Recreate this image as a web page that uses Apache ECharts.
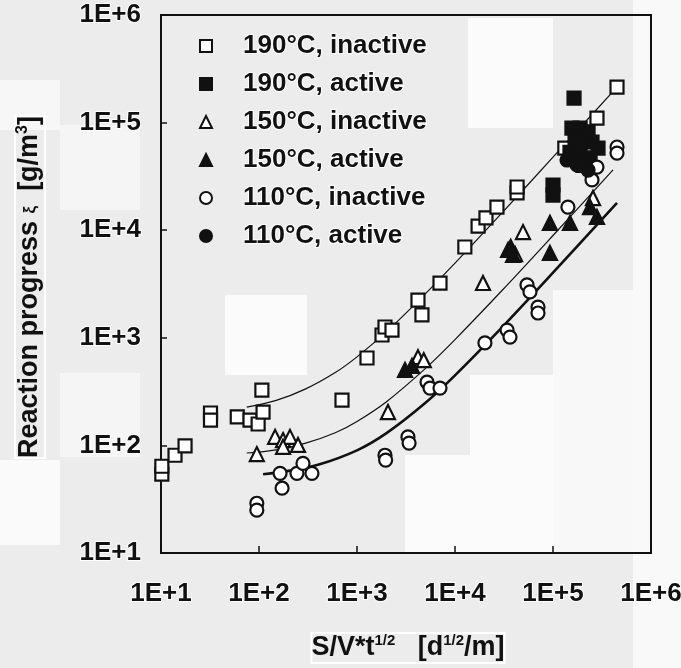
<!DOCTYPE html>
<html>
<head>
<meta charset="utf-8">
<script src="https://cdn.jsdelivr.net/npm/echarts@6/dist/echarts.min.js"></script>
<style>
  html, body { margin: 0; padding: 0; background: #ececec; }
  #chart { width: 681px; height: 668px; }
</style>
</head>
<body>
<div id="chart"></div>
<script>
// Decade exponents shown on both log axes
const tickExponents = [1, 2, 3, 4, 5, 6];

// Measured points [S/V*t^1/2, reaction progress]
const sq190Inactive = [
  [10.2, 54], [10.2, 64], [13.9, 81], [17.6, 99], [32, 200], [32, 172], [60, 184],
  [81, 172], [98, 158], [110, 204], [107, 327], [703, 264], [1265, 649], [1800, 1062],
  [1930, 1260], [2275, 1181], [4190, 2244], [4600, 1630], [7030, 3228], [12600, 6980],
  [17200, 10900], [20700, 13000], [26800, 16400], [43000, 22200], [43000, 25200],
  [132000, 58000], [281000, 110000], [450000, 214000]
];
const sq190Active = [
  [164000, 169000], [156000, 89000], [189000, 89000], [228000, 82000], [168000, 69000],
  [202000, 69000], [250000, 66000], [149000, 53000], [189000, 53000], [239000, 47000],
  [288000, 58000], [202000, 40000], [100000, 26300], [100000, 21200]
];
const tri150Inactive = [
  [95, 83], [146, 120], [176, 112], [207, 120], [250, 101], [176, 97], [2070, 204],
  [4190, 660], [4800, 620], [19300, 3230], [41000, 6000], [49400, 9600], [256000, 19900]
];
const tri150Active = [
  [3090, 502], [3640, 547], [34800, 6550], [39100, 5890], [37000, 7000], [93000, 11700],
  [149000, 11700], [239000, 16400], [281000, 13300], [93000, 6140]
];
const circ110Inactive = [
  [95, 29], [95, 25], [172, 40], [164, 55], [244, 55], [281, 68], [347, 55],
  [1930, 81], [1960, 73], [3310, 120], [3400, 105], [5180, 388], [5560, 341], [7030, 341],
  [20200, 896], [34000, 1181], [36400, 1016], [54300, 3100], [58200, 2670], [70300, 1930],
  [70300, 1700], [142000, 16400], [250000, 29300], [281000, 38600], [450000, 59300],
  [450000, 52100]
];
const circ110Active = [[139000, 44900], [228000, 36200], [176000, 40400]];

// Fitted trend curves
const fit190 = [
  [75, 227], [150, 262], [300, 335], [600, 475], [1000, 665], [2000, 1140], [5000, 2570],
  [10000, 4950], [30000, 14400], [100000, 47700], [450000, 214000]
];
const fit150 = [
  [75, 85], [150, 91], [300, 105], [600, 131], [1000, 167], [2000, 255], [5000, 520],
  [10000, 963], [30000, 2735], [100000, 8930], [410000, 36400]
];
const fit110 = [
  [110, 54], [200, 58], [400, 66], [1000, 90], [2000, 130], [5000, 249], [10000, 448],
  [30000, 1244], [100000, 4030], [450000, 17960]
];

const seriesNames = [
  '190°C, inactive', '190°C, active', '150°C, inactive',
  '150°C, active', '110°C, inactive', '110°C, active'
];

const FONT = '"Liberation Sans", Arial, Helvetica, sans-serif';
const INK = '#111';

const chart = echarts.init(document.getElementById('chart'), null, { renderer: 'canvas' });

function marker(name, symbol, size, data, filled) {
  return {
    name: name,
    type: 'scatter',
    symbol: symbol,
    symbolSize: size,
    data: data,
    z: 3,
    itemStyle: {
      color: filled ? INK : '#fff',
      borderColor: INK,
      borderWidth: 2.2,
      opacity: 1
    },
    emphasis: { disabled: true }
  };
}

function curve(data, width) {
  return {
    type: 'line',
    data: data,
    showSymbol: false,
    symbol: 'none',
    smooth: 0.35,
    z: 2,
    lineStyle: { color: INK, width: width },
    emphasis: { disabled: true },
    silent: true
  };
}

const expLabel = v => '1E+' + Math.round(Math.log10(v));
const labelStyle = {
  fontFamily: FONT, fontSize: 26, fontWeight: 'bold', color: INK,
  textBorderColor: '#fff', textBorderWidth: 2
};

// Light page blocks behind the plot
const blocks = [
  [225, 295, 82, 80, '#fbfbfb'],
  [468, 18, 85, 110, '#fbfbfb'],
  [470, 375, 83, 80, '#fbfbfb'],
  [405, 455, 148, 98, '#fbfbfb'],
  [553, 290, 80, 263, '#f8f8f8'],
  [633, 0, 48, 668, '#f9f9f9'],
  [60, 125, 80, 85, '#f5f5f5'],
  [60, 373, 80, 84, '#f5f5f5'],
  [0, 460, 60, 85, '#fafafa'],
  [0, 80, 60, 50, '#f7f7f7']
];

chart.setOption({
  animation: false,
  backgroundColor: '#ececec',
  graphic: blocks.map(b => ({
    type: 'rect', silent: true, z: -10,
    shape: { x: b[0], y: b[1], width: b[2], height: b[3] },
    style: { fill: b[4] }
  })).concat([
    {
      type: 'text', silent: true, z: 10,
      x: 30, y: 287, rotation: Math.PI / 2,
      style: {
        text: '{t|Reaction progress }{x|ξ}{t|  [g/m}{s|3}{t|]}',
        align: 'center', verticalAlign: 'middle',
        fill: INK, textBorderColor: '#fff', textBorderWidth: 2,
        rich: {
          t: { fontFamily: FONT, fontSize: 27, fontWeight: 'bold', lineHeight: 30, fill: INK },
          x: { fontFamily: FONT, fontSize: 17, fontWeight: 'bold', lineHeight: 30, fill: INK },
          s: { fontFamily: FONT, fontSize: 16, fontWeight: 'bold', lineHeight: 15, verticalAlign: 'top', fill: INK }
        }
      }
    },
    {
      type: 'text', silent: true, z: 10,
      x: 408, y: 648,
      style: {
        text: '{t|S/V*t}{s|1/2}{t|   [d}{s|1/2}{t|/m]}',
        align: 'center', verticalAlign: 'middle',
        fill: INK, textBorderColor: '#fff', textBorderWidth: 2,
        rich: {
          t: { fontFamily: FONT, fontSize: 27, fontWeight: 'bold', lineHeight: 30, fill: INK },
          s: { fontFamily: FONT, fontSize: 15, fontWeight: 'bold', lineHeight: 15, verticalAlign: 'top', fill: INK }
        }
      }
    }
  ]),
  grid: {
    left: 161, right: 30, top: 15, bottom: 115,
    show: true, borderColor: INK, borderWidth: 2, backgroundColor: 'transparent',
    containLabel: false, outerBoundsMode: 'none'
  },
  legend: {
    orient: 'vertical',
    left: 199, top: 32,
    padding: 0,
    itemWidth: 12, itemHeight: 12, itemGap: 10,
    selectedMode: false,
    data: seriesNames,
    textStyle: Object.assign({ lineHeight: 26, padding: [0, 0, 0, 26] }, labelStyle)
  },
  xAxis: {
    type: 'log', logBase: 10, min: 10, max: 1e6,
    axisLine: { lineStyle: { color: INK, width: 2 } },
    axisTick: { inside: true, length: 7, lineStyle: { color: INK, width: 1.5 } },
    splitLine: { show: false },
    axisLabel: Object.assign({
      margin: 28, formatter: expLabel, alignMinLabel: 'center', alignMaxLabel: 'center',
      hideOverlap: false
    }, labelStyle)
  },
  yAxis: {
    type: 'log', logBase: 10, min: 10, max: 1e6,
    axisLine: { lineStyle: { color: INK, width: 2 } },
    axisTick: { inside: true, length: 6, lineStyle: { color: INK, width: 1.5 } },
    splitLine: { show: false },
    axisLabel: Object.assign({ margin: 20, formatter: expLabel }, labelStyle)
  },
  series: [
    curve(fit190, 1.2),
    curve(fit150, 1.2),
    curve(fit110, 2.6),
    marker(seriesNames[0], 'rect', 13, sq190Inactive, false),
    marker(seriesNames[1], 'rect', 13, sq190Active, true),
    marker(seriesNames[2], 'triangle', 14, tri150Inactive, false),
    marker(seriesNames[3], 'triangle', 14, tri150Active, true),
    marker(seriesNames[4], 'circle', 13, circ110Inactive, false),
    marker(seriesNames[5], 'circle', 13, circ110Active, true)
  ]
});
</script>
</body>
</html>
